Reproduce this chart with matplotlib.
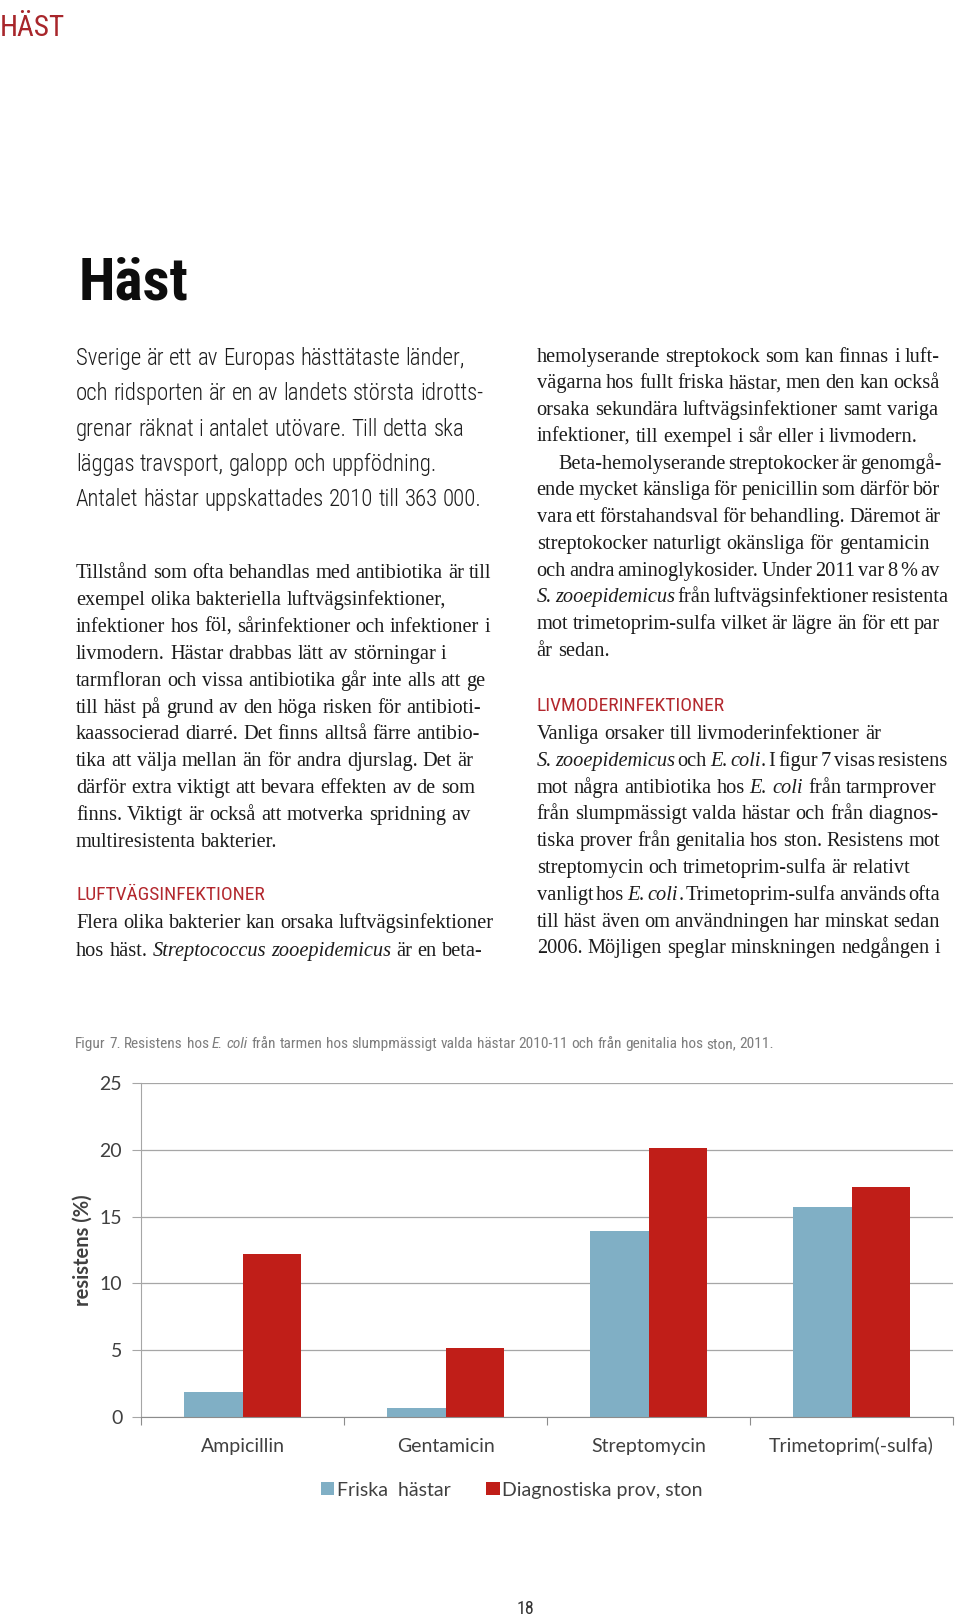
import matplotlib
matplotlib.use("Agg")
import matplotlib.pyplot as plt
from matplotlib import font_manager as fm
import numpy as np

# chart data (Figur 7)
drugs = ["Ampicillin", "Gentamicin", "Streptomycin", "Trimetoprim(-sulfa)"]
friska = [1.9, 0.7, 13.9, 15.7]
diagnostiska = [12.2, 5.2, 20.1, 17.2]
yticks = [0, 5, 10, 15, 20, 25]
series_labels = ["Friska  hästar", "Diagnostiska prov, ston"]

# page text
header = "HÄST"
title = "Häst"
intro = [
    "Sverige är ett av Europas hästtätaste länder,",
    "och ridsporten är en av landets största idrotts-",
    "grenar räknat i antalet utövare. Till detta ska",
    "läggas travsport, galopp och uppfödning.",
    "Antalet hästar uppskattades 2010 till 363 000.",
]
left_body = [
    "Tillstånd som ofta behandlas med antibiotika är till",
    "exempel olika bakteriella luftvägsinfektioner,",
    "infektioner hos föl, sårinfektioner och infektioner i",
    "livmodern. Hästar drabbas lätt av störningar i",
    "tarmfloran och vissa antibiotika går inte alls att ge",
    "till häst på grund av den höga risken för antibioti-",
    "kaassocierad diarré. Det finns alltså färre antibio-",
    "tika att välja mellan än för andra djurslag. Det är",
    "därför extra viktigt att bevara effekten av de som",
    "finns. Viktigt är också att motverka spridning av",
    "multiresistenta bakterier.",
]
left_head = "LUFTVÄGSINFEKTIONER"
left_tail = [
    "Flera olika bakterier kan orsaka luftvägsinfektioner",
    [("hos häst. ", False), ("Streptococcus zooepidemicus", True), (" är en beta-", False)],
]
right_body = [
    "hemolyserande streptokock som kan finnas i luft-",
    "vägarna hos fullt friska hästar, men den kan också",
    "orsaka sekundära luftvägsinfektioner samt variga",
    "infektioner, till exempel i sår eller i livmodern.",
    "Beta-hemolyserande streptokocker är genomgå-",
    "ende mycket känsliga för penicillin som därför bör",
    "vara ett förstahandsval för behandling. Däremot är",
    "streptokocker naturligt okänsliga för gentamicin",
    "och andra aminoglykosider. Under 2011 var 8 % av",
    [("S. zooepidemicus", True), (" från luftvägsinfektioner resistenta", False)],
    "mot trimetoprim-sulfa vilket är lägre än för ett par",
    "år sedan.",
]
right_head = "LIVMODERINFEKTIONER"
right_tail = [
    "Vanliga orsaker till livmoderinfektioner är",
    [("S. zooepidemicus", True), (" och ", False), ("E. coli", True), (". I figur 7 visas resistens", False)],
    [("mot några antibiotika hos ", False), ("E. coli", True), (" från tarmprover", False)],
    "från slumpmässigt valda hästar och från diagnos-",
    "tiska prover från genitalia hos ston. Resistens mot",
    "streptomycin och trimetoprim-sulfa är relativt",
    [("vanligt hos ", False), ("E. coli", True), (". Trimetoprim-sulfa används ofta", False)],
    "till häst även om användningen har minskat sedan",
    "2006. Möjligen speglar minskningen nedgången i",
]
caption = [("Figur 7. Resistens hos ", False), ("E. coli", True),
           (" från tarmen hos slumpmässigt valda hästar 2010-11 och från genitalia hos ston, 2011.", False)]
page_no = "18"

W, H = 960, 1617
BLUE = "#80afc5"
RED = "#c01e18"
INK = "#1c1c1c"

CONDENSED = ("condensed", "semi-condensed", "extra-condensed", "ultra-condensed")
PREF = ["Roboto Condensed", "Liberation Sans Narrow", "Open Sans Condensed",
        "Noto Sans Condensed", "Noto Sans", "DejaVu Sans Condensed", "DejaVu Sans",
        "Open Sans", "Roboto"]


def wnum(w):
    if isinstance(w, str):
        return fm.weight_dict.get(w, 400)
    return int(w)


def cond_font(weight=400, italic=False):
    cands = []
    for f in fm.fontManager.ttflist:
        if f.name not in PREF:
            continue
        if not (f.stretch in CONDENSED or "Condensed" in f.name or "Narrow" in f.name):
            continue
        if (f.style != "normal") != italic:
            continue
        cands.append(f)
    if cands:
        best = min(cands, key=lambda f: (PREF.index(f.name), abs(wnum(f.weight) - weight)))
        return fm.FontProperties(fname=best.fname)
    return fm.FontProperties(family="Roboto", weight=weight,
                             style="italic" if italic else "normal")


SANS_L = cond_font(300)
SANS_R = cond_font(400)
SANS_I = cond_font(400, italic=True)
SANS_B = cond_font(900)
SERIF = fm.FontProperties(family="Liberation Serif")
SERIF_I = fm.FontProperties(family="Liberation Serif", style="italic")

plt.rcParams["font.family"] = ["Lato", "DejaVu Sans"]

fig = plt.figure(figsize=(W / 100, H / 100), dpi=100)
renderer = fig.canvas.get_renderer()


def measure(s, fp, size):
    p = fp.copy()
    p.set_size(size)
    w, h, d = renderer.get_text_width_height_descent(s, p, ismath=False)
    return w


def words_of(segs):
    if isinstance(segs, str):
        segs = [(segs, False)]
    words = [[]]
    for txt, it in segs:
        for k, part in enumerate(txt.split(" ")):
            if k:
                words.append([])
            if part:
                words[-1].append((part, it))
    return [w for w in words if w]


def line_w(segs, fp, fpi, size):
    ws = words_of(segs)
    sp = measure("n n", fp, size) - measure("nn", fp, size)
    tot = sum(measure(p, fpi if it else fp, size) for w in ws for p, it in w)
    return tot + sp * (len(ws) - 1)


def fit(segs, fp, fpi, target, size0=20.0):
    return size0 * target / line_w(segs, fp, fpi, size0)


def draw_line(x, y, segs, fp, fpi, size, color, right=None):
    ws = words_of(segs)
    sp = measure("n n", fp, size) - measure("nn", fp, size)
    if right is not None and len(ws) > 1:
        words_w = sum(measure(p, fpi if it else fp, size) for w in ws for p, it in w)
        room = (right - x - words_w) / (len(ws) - 1)
        if room < sp:
            sp = max(room, 0.55 * sp)
    for w in ws:
        for p, it in w:
            f = (fpi if it else fp).copy()
            f.set_size(size)
            fig.text(x / W, 1 - y / H, p, fontproperties=f, color=color,
                     ha="left", va="baseline")
            x += measure(p, f, size)
        x += sp


# header and title
s = fit(header, SANS_R, SANS_R, 65)
draw_line(0, 36, header, SANS_R, SANS_R, s, "#a8262b")
s = fit(title, SANS_B, SANS_B, 110)
draw_line(79, 299, title, SANS_B, SANS_B, s, "#0d0d0d")

# left column
s = fit(intro[4], SANS_L, SANS_L, 406)
for i, ln in enumerate(intro):
    draw_line(76, 365 + i * 35.3, ln, SANS_L, SANS_L, s, INK)

serif_size = fit(left_body[0], SERIF, SERIF_I, 417)
for i, ln in enumerate(left_body):
    draw_line(76, 578.3 + i * 26.84, ln, SERIF, SERIF_I, serif_size, INK, right=494)

hs = fit(left_head, SANS_R, SANS_R, 189)
draw_line(76, 900, left_head, SANS_R, SANS_R, hs, "#b3282e")
for i, ln in enumerate(left_tail):
    draw_line(76, 928.3 + i * 27.2, ln, SERIF, SERIF_I, serif_size, INK, right=494)

# right column
for i, ln in enumerate(right_body):
    x0 = 558 if i == 4 else 536.7
    draw_line(x0, 361.7 + i * 26.75, ln, SERIF, SERIF_I, serif_size, INK, right=940)
draw_line(536.7, 711, right_head, SANS_R, SANS_R, hs, "#b3282e")
for i, ln in enumerate(right_tail):
    draw_line(536.7, 739 + i * 26.8, ln, SERIF, SERIF_I, serif_size, INK, right=940)

# caption
s = fit(caption, SANS_R, SANS_I, 702)
draw_line(75, 1048.3, caption, SANS_R, SANS_I, s, "#7d7d7d")

# page number
draw_line(517, 1614, page_no, SANS_R, SANS_R, 13, "#333333")

# chart
L, R, T, B = 141, 953, 1082.7, 1417.3
ax = fig.add_axes([L / W, 1 - B / H, (R - L) / W, (B - T) / H])
x = np.arange(len(drugs))
bw = 0.286
ax.bar(x - bw / 2, friska, bw, color=BLUE, label=series_labels[0], zorder=2)
ax.bar(x + bw / 2, diagnostiska, bw, color=RED, label=series_labels[1], zorder=2)
ax.set_xlim(-0.5, len(drugs) - 0.5)
ax.set_ylim(0, 25)
ax.set_yticks(yticks)
ax.yaxis.grid(True, color="#a6a6a6", lw=0.9)
ax.set_axisbelow(True)
for sp_name in ["top", "right"]:
    ax.spines[sp_name].set_visible(False)
ax.spines["left"].set_color("#a6a6a6")
ax.spines["bottom"].set_color("#8c8c8c")
ax.set_xticks(np.arange(len(drugs) + 1) - 0.5)
ax.set_xticklabels([])
ax.set_xticks(x, minor=True)
ax.set_xticklabels(drugs, minor=True)
ax.tick_params(axis="x", which="major", length=5.5, color="#8c8c8c", direction="out")
ax.tick_params(axis="x", which="minor", length=0, pad=24.8, labelsize=14, labelcolor="#404040")
for lbl in ax.get_xticklabels(minor=True):
    lbl.set_verticalalignment("baseline")
ax.tick_params(axis="y", length=6.5, color="#a6a6a6", pad=7, labelsize=14, labelcolor="#404040")
ax.set_ylabel("resistens (%)", fontsize=14.5, fontweight="bold", color="#404040")
ax.yaxis.set_label_coords(-0.059, 0.5)

fig.legend(loc="center", bbox_to_anchor=(512 / W, 1 - 1490 / H), ncol=2, frameon=False,
           fontsize=14, handlelength=0.69, handleheight=0.69, handletextpad=0.15,
           columnspacing=1.8, labelcolor="#404040")

fig.savefig("out.png", dpi=100)
